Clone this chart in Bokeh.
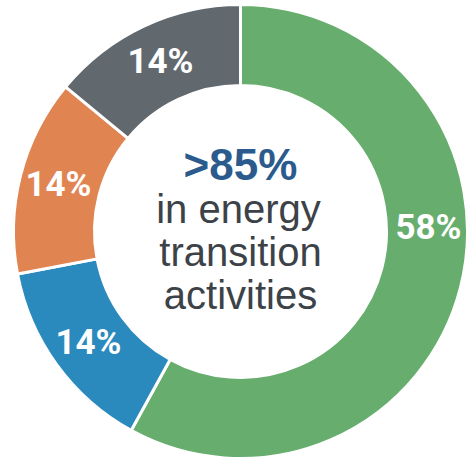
import math
from bokeh.plotting import figure
from bokeh.models import Range1d, ColumnDataSource
from bokeh.core.properties import value
from bokeh.embed import file_html
from bokeh.resources import INLINE

# ---- data ----
categories = ["Green", "Blue", "Orange", "Gray"]
shares = [58, 14, 14, 14]
labels = ["58%", "14%", "14%", "14%"]
colors = ["#67AE6E", "#2A8ABE", "#E08552", "#61696F"]
center_headline = ">85%"
center_lines = ["in energy", "transition", "activities"]

# ---- layout ----
W, H = 469, 459
cx_page, cy_page = 240, 231  # donut centre in page pixels
p = figure(width=W, height=H, output_backend="svg", toolbar_location=None,
           x_range=Range1d(0 - cx_page, W - cx_page),
           y_range=Range1d(cy_page - H, cy_page),
           min_border=0)
p.axis.visible = False
p.grid.visible = False
p.outline_line_color = None
p.background_fill_color = "white"
p.border_fill_color = "white"

total = float(sum(shares))
starts, ends, lx, ly = [], [], [], []
cum = 0.0
r_in, r_out = 146, 227
r_lab = 188
for s in shares:
    a0 = math.pi / 2 - cum / total * 2 * math.pi
    cum += s
    a1 = math.pi / 2 - cum / total * 2 * math.pi
    starts.append(a0)
    ends.append(a1)
    mid = (a0 + a1) / 2
    if s / total > 0.5:
        mid = 0.02
    lx.append(r_lab * math.cos(mid))
    ly.append(r_lab * math.sin(mid))

src = ColumnDataSource(dict(start=starts, end=ends, color=colors,
                            lx=lx, ly=ly, label=labels))
p.annular_wedge(x=0, y=0, inner_radius=r_in, outer_radius=r_out,
                start_angle="start", end_angle="end", direction="clock",
                fill_color="color", line_color="white", line_width=3,
                source=src)

p.text(x="lx", y="ly", text="label", source=src,
       text_font=value("Roboto"), text_font_style="bold",
       text_font_size="35px", text_color="white",
       text_align="center", text_baseline="middle")

p.text(x=[0], y=[67], text=[center_headline],
       text_font=value("Liberation Sans"), text_font_style="bold",
       text_font_size="44px", text_color="#2B5B8C",
       text_align="center", text_baseline="alphabetic")

line_y = [23, -20, -63]
p.text(x=[-2, 0, 0], y=line_y, text=center_lines,
       text_font=value("Liberation Sans"), text_font_size="40px",
       text_color="#3C4247", text_align="center", text_baseline="alphabetic")

open("out.html", "w").write(file_html(p, INLINE))
